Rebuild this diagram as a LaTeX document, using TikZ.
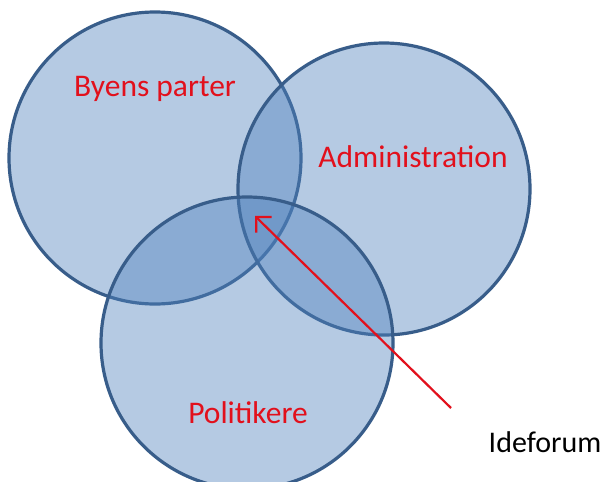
\documentclass[tikz,border=0pt]{standalone}
\usepackage{fontspec}
\setmainfont{Carlito}
\usetikzlibrary{arrows.meta}
\definecolor{cfill}{RGB}{79,129,189}
\definecolor{cline}{RGB}{56,93,138}
\definecolor{tred}{RGB}{226,16,28}
\tikzset{
  venn/.style={circle, draw=cline, line width=3.2pt, fill=cfill, fill opacity=0.42, draw opacity=1, inner sep=0pt, minimum size=292pt},
  lbl/.style={text=tred, font=\fontsize{31.5}{36}\selectfont, anchor=base, inner sep=0pt},
  blk/.style={text=black, font=\fontsize{30}{36}\selectfont, anchor=base, inner sep=0pt},
  redarrow/.style={draw=tred, line width=2.2pt, -{Straight Barb[length=11pt, width=22pt, line width=2.2pt]}}
}
\begin{document}
\begin{tikzpicture}[x=1pt,y=-1pt]
\useasboundingbox (0,0) rectangle (606,482);
\clip (0,0) rectangle (606,482);
\fill[white] (0,0) rectangle (606,482);
\node[venn] (byens) at (155,158) {};
\node[venn] (admin) at (384,189) {};
\node[venn] (polit) at (247,343) {};
\node[lbl] (tbyens) at (155,96) {Byens parter};
\node[lbl] (tadmin) at (413,167) {Administration};
\node[lbl] (tpolit) at (248,423) {Politikere};
\node[blk] (tidee) at (545,452) {Ideforum};
\coordinate (astart) at (451,408);
\coordinate (atip) at (255,216);
\draw[redarrow] (astart) -- (atip);
\end{tikzpicture}
\end{document}
